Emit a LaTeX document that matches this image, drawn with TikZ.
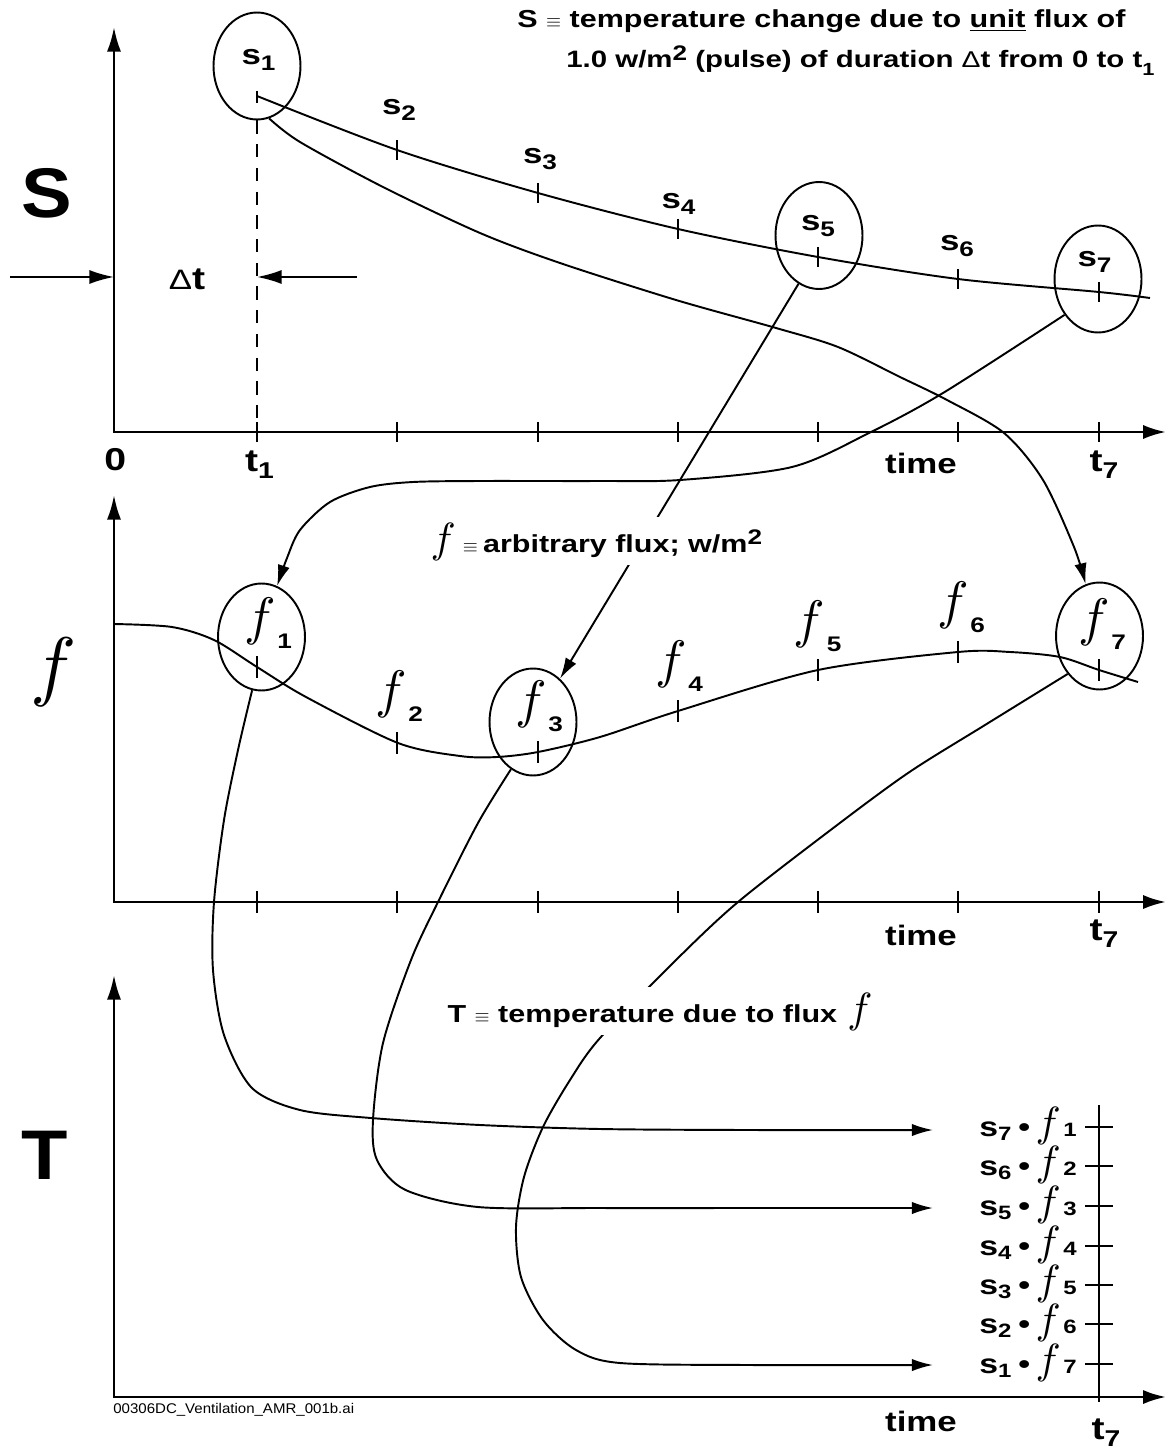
\documentclass[tikz,border=0pt]{standalone}
\usepackage{fontspec}
\usetikzlibrary{arrows.meta,shapes.geometric}
\newfontfamily\labfont{Liberation Sans}[FakeStretch=1.24]
\newfontfamily\bigsans{Liberation Sans}[FakeStretch=1.08]
\newfontfamily\footf{Liberation Sans}[FakeStretch=1.07]
\newcommand\fsz[1]{\fontsize{#1}{#1}\selectfont}
\newcommand\ff[1]{\scalebox{#1}{\fsz{10}$f$}}
\newcommand\slab[1]{{\labfont\bfseries\fsz{16}s\raisebox{-3.5pt}{\fsz{12}#1}}}
\newcommand\flab[1]{\ff{3.0}\kern1pt\raisebox{-8pt}{\labfont\bfseries\fsz{12}#1}}
\newcommand\tlab[1]{{\labfont\bfseries\fsz{18}t\raisebox{-4pt}{\fsz{13}#1}}}
\newcommand\rowlab[2]{{\labfont\bfseries\fsz{15.5}s\raisebox{-2.5pt}{\fsz{11}#1}\kern4pt\textbullet\kern3pt\ff{2.4}\kern1.5pt{\fsz{11}#2}}}
\newcommand\eqv{\scalebox{1.1}{\fsz{10}$\equiv$}}
\begin{document}
\begin{tikzpicture}[x=0.02cm,y=-0.02cm,
  axis/.style={line width=1.5pt,{Latex[length=14pt,width=8pt]}-{Latex[length=13pt,width=8pt]}},
  curve/.style={line width=1.1pt},
  conn/.style={line width=1.1pt,-{Latex[length=12pt,width=7pt]}},
  dimarrow/.style={line width=1.1pt,-{Latex[length=14pt,width=8pt]}},
  tick/.style={line width=1pt},
  oval/.style={ellipse,draw,line width=1.1pt,minimum width=1.74cm,minimum height=2.14cm,inner sep=0pt},
  lbl/.style={inner sep=0pt},
  whitebg/.style={fill=white,inner sep=3pt,anchor=base west}]
\useasboundingbox (0,0) rectangle (1166,1449);
% ---------- axes
\draw[axis] (114,27) -- (114,432) -- (1166,432);
\draw[axis] (114,495) -- (114,902) -- (1166,902);
\draw[axis] (114,975) -- (114,1397) -- (1166,1397);
\foreach \x in {257,397,538,678,818,958,1099} {
  \draw[tick] (\x,422) -- (\x,442);
  \draw[tick] (\x,891) -- (\x,913);
}
% ---------- ellipses
\node[oval] (s1) at (257,66) {};
\node[oval] (s5) at (819,235.5) {};
\node[oval] (s7) at (1098,279) {};
\node[oval] (f1) at (261.5,637) {};
\node[oval] (f3) at (533,722) {};
\node[oval] (f7) at (1099.5,636) {};
% ---------- S panel
\draw[line width=1pt,dash pattern=on 7.5pt off 6pt] (s1.south) -- (257,422);
\draw[tick] (257,91) -- (257,103);
\draw[curve] plot[smooth] coordinates {(257,96) (397,150) (538,193) (678,229) (818,257) (958,279) (1099,292) (1150,298)};
\foreach \x/\y in {397/150,538/193,678/229,818/257,958/279,1099/292}
  \draw[tick] (\x,\y-10) -- (\x,\y+10);
\coordinate (dl) at (10,277);
\coordinate (dr) at (357,277);
\draw[dimarrow] (dl) -- (114,277);
\draw[dimarrow] (dr) -- (257,277);
% ---------- f panel
\draw[curve] plot[smooth] coordinates {(114,624) (172,627) (214,640) (257,667) (306,697) (398,743) (460,756) (497,757) (538,752) (600,737) (678,711) (818,670) (958,652) (1010,652) (1060,657) (1099,670) (1138,682)};
\foreach \x/\y in {257/667,397/743,538/752,678/711,818/670,958/652,1099/670}
  \draw[tick] (\x,\y-11) -- (\x,\y+11);
% ---------- T panel
\draw[tick] (1099,1105) -- (1099,1402);
\foreach \y in {1127,1166,1206,1246,1285,1324,1364}
  \draw[tick] (1085,\y) -- (1113,\y);
\coordinate (e1) at (933,1130);
\coordinate (e3) at (933,1208);
\coordinate (e7) at (933,1365);
% ---------- connectors
\draw[conn] plot[smooth] coordinates {(s1.283) (300,142) (383,187) (480,233) (560,263) (676,300) (776,328) (838,347) (900,377) (947,400) (1004,433) (1043,480) (1074,547) (f7.105)};
\draw[conn] plot[smooth] coordinates {(s7.227) (943,393) (869,433) (792,467) (680,480) (600,481) (480,481) (413,482) (370,487) (330,502) (300,530) (287,558) (f1.73)};
\draw[conn] (s5.247) -- (f3.58);
\draw[conn] plot[smooth] coordinates {(f1.260) (238,750) (224,820) (214,902) (213,970) (224,1035) (252,1088) (300,1110) (371,1118) (480,1125) (600,1129) (750,1130) (e1)};
\draw[conn] plot[smooth] coordinates {(f3.245) (478,823) (438,902) (411,960) (383,1043) (373,1120) (377,1160) (405.6,1190) (478,1207) (600,1208) (750,1208) (e3)};
\draw[conn] plot[smooth] coordinates {(f7.230) (985,725) (908,773) (830.6,830) (738,902) (676,960) (600,1038) (570,1080) (543,1127) (524,1177) (516,1227) (521,1277) (543,1320) (576,1350) (620,1363) (750,1365) (e7)};
% ---------- big axis letters
\node[lbl] (bigS) at (47,193) {\bigsans\bfseries\fsz{40}S};
\node[lbl] (bigf) at (53.5,672) {\ff{4.4}};
\node[lbl] (bigT) at (45,1155) {\bigsans\bfseries\fsz{40}T};
% ---------- titles
\node[lbl,anchor=base west] (title1) at (517,28) {\labfont\bfseries\fsz{14}S \eqv{} temperature change due to \underline{unit} flux of};
\node[lbl,anchor=base west] (title2) at (566,68) {\labfont\bfseries\fsz{13.5}1.0 w/m\raisebox{4pt}{\fsz{12}2} (pulse) of duration {\mdseries\fsz{13}\char"0394}t from 0 to t\raisebox{-4pt}{\fsz{10}1}};
\node[whitebg] (fdef) at (425,552) {\labfont\bfseries\fsz{14}\ff{2.4}\kern4pt\eqv\kern3pt arbitrary flux; w/m\raisebox{4pt}{\fsz{12}2}};
\node[whitebg] (Tdef) at (442,1022) {\labfont\bfseries\fsz{14}T \eqv{} temperature due to flux \kern1pt\ff{2.4}};
\node[lbl] (dt) at (187,279) {\labfont\bfseries{\mdseries\fsz{16}\char"0394}\fsz{18}t};
% ---------- s labels
\node[lbl] (ls1) at (258.5,60) {\slab{1}};
\node[lbl] (ls2) at (399,110) {\slab{2}};
\node[lbl] (ls3) at (540,159) {\slab{3}};
\node[lbl] (ls4) at (678.5,204) {\slab{4}};
\node[lbl] (ls5) at (818,226) {\slab{5}};
\node[lbl] (ls6) at (957,246) {\slab{6}};
\node[lbl] (ls7) at (1094.5,262) {\slab{7}};
% ---------- f labels
\node[lbl] (lf1) at (268,623.5) {\flab{1}};
\node[lbl] (lf2) at (399,696.5) {\flab{2}};
\node[lbl] (lf3) at (539,706.5) {\flab{3}};
\node[lbl] (lf4) at (679,666) {\flab{4}};
\node[lbl] (lf5) at (817.6,626) {\flab{5}};
\node[lbl] (lf6) at (961,607.5) {\flab{6}};
\node[lbl] (lf7) at (1102,624.5) {\flab{7}};
% ---------- axis labels
\node[lbl] (zero) at (115.4,460) {\labfont\bfseries\fsz{18}0};
\node[lbl] (t1) at (259.5,465) {\tlab{1}};
\node[lbl] (time1) at (921,463) {\labfont\bfseries\fsz{16}time};
\node[lbl] (t7a) at (1104,465) {\tlab{7}};
\node[lbl] (time2) at (921,935) {\labfont\bfseries\fsz{16}time};
\node[lbl] (t7b) at (1104,934) {\tlab{7}};
\node[lbl] (time3) at (921,1421) {\labfont\bfseries\fsz{16}time};
\node[lbl] (t7c) at (1106,1433) {\tlab{7}};
% ---------- T rows
\foreach \i/\j/\y in {7/1/1127,6/2/1166,5/3/1206,4/4/1246,3/5/1285,2/6/1324,1/7/1364}
  \node[lbl,anchor=base east] (r\j) at (1077,\y+9) {\rowlab{\i}{\j}};
% ---------- footer
\node[lbl,anchor=base west] (foot) at (113,1413) {\footf\fsz{8}00306DC\_Ventilation\_AMR\_001b.ai};
\end{tikzpicture}
\end{document}
